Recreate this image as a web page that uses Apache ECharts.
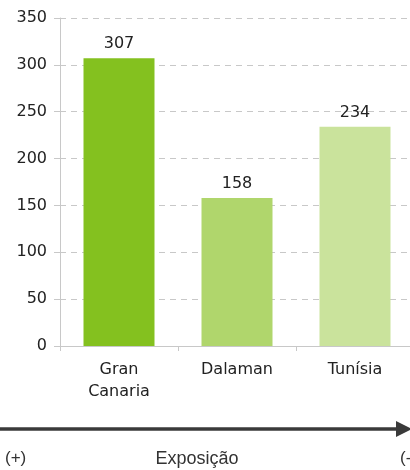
<!DOCTYPE html>
<html><head><meta charset="utf-8">
<script src="https://cdn.jsdelivr.net/npm/echarts@6/dist/echarts.min.js"></script>
<style>html,body{margin:0;padding:0;background:#fff}#c{width:410px;height:470px}</style>
</head><body><div id="c"></div>
<script>
var categories = ['Gran\nCanaria', 'Dalaman', 'Tunísia'];
var values = [307, 158, 234];
var barColors = ['#84c11f', '#b0d66c', '#cae39c'];
var yTicks = [0, 50, 100, 150, 200, 250, 300, 350];
var axisTitle = 'Exposição';
var leftMark = '(+)';
var rightMark = '(-)';

var chart = echarts.init(document.getElementById('c'));
chart.setOption({
  animation: false,
  grid: { left: 60, width: 354, top: 18, bottom: 124, outerBoundsMode: 'none', containLabel: false },
  xAxis: {
    type: 'category', data: categories,
    axisLine: { lineStyle: { color: '#c8c8c8' } },
    axisTick: { show: true, lineStyle: { color: '#c8c8c8' }, length: 5 },
    axisLabel: { color: '#222', fontFamily: 'DejaVu Sans', fontSize: 16, margin: 13, lineHeight: 22 }
  },
  yAxis: {
    type: 'value', min: yTicks[0], max: yTicks[yTicks.length - 1], interval: 50,
    axisLine: { show: true, lineStyle: { color: '#c8c8c8' } },
    axisTick: { show: true, length: 6, lineStyle: { color: '#c8c8c8' } },
    axisLabel: { color: '#222', fontFamily: 'DejaVu Sans', fontSize: 16, margin: 13 },
    splitLine: { lineStyle: { color: '#c8c8c8', type: [6, 5] } }
  },
  series: [{
    type: 'bar', barWidth: 71,
    data: values.map(function (v, i) { return { value: v, itemStyle: { color: barColors[i] } }; }),
    label: { show: true, position: 'top', distance: 6, color: '#222', fontFamily: 'DejaVu Sans', fontSize: 16 }
  }],
  graphic: [
    { type: 'line', shape: { x1: 0, y1: 429, x2: 398, y2: 429 }, style: { stroke: '#3a3a3a', lineWidth: 3.5 } },
    { type: 'polygon', shape: { points: [[396, 421], [412, 429], [396, 437]] }, style: { fill: '#3a3a3a' } },
    { type: 'text', left: 5, top: 450, style: { text: leftMark, fill: '#333', font: '17px "Liberation Sans"' } },
    { type: 'text', x: 197, y: 450, style: { text: axisTitle, fill: '#333', font: '18px "Liberation Sans"', textAlign: 'center' } },
    { type: 'text', x: 400, y: 450, style: { text: rightMark, fill: '#333', font: '17px "Liberation Sans"' } }
  ]
});
</script></body></html>
